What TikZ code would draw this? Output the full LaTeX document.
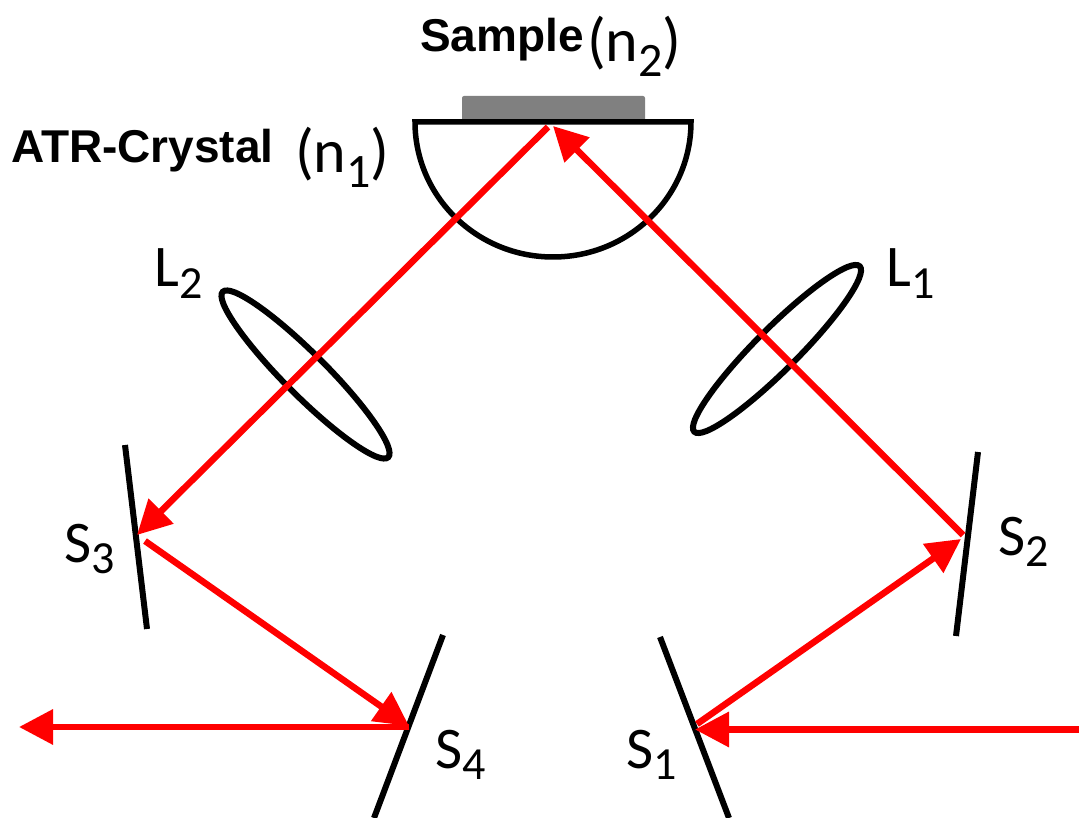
\documentclass[tikz,border=0pt]{standalone}
\usepackage{fontspec}
\setmainfont{Carlito}
\newfontfamily\boldfam[BoldFont={Liberation Sans Bold}]{Liberation Sans}
\usetikzlibrary{arrows.meta}
\newcommand\sbs[1]{\raisebox{-0.2em}{\fontsize{46}{46}\selectfont #1}}
\newcommand\sbb[1]{\raisebox{-0.24em}{\fontsize{48}{48}\selectfont #1}}
\tikzset{
 ray/.style={draw=red,line width=6.5pt,-{Triangle[length=34pt,width=34pt]}},
 mirror/.style={draw=black,line width=6pt},
 lens/.style={draw=black,line width=6pt,fill=none},
 lab/.style={font=\fontsize{59}{59}\selectfont,inner sep=0pt,anchor=base west},
 idx/.style={font=\fontsize{62}{62}\selectfont,inner sep=0pt,anchor=base west},
 bold/.style={font=\fontsize{46}{46}\selectfont\boldfam\bfseries,inner sep=0pt,anchor=base west},
}
\begin{document}
\begin{tikzpicture}[x=1pt,y=-1pt]
\useasboundingbox (0,0) rectangle (1079,818);
\clip (0,0) rectangle (1079,818);
% sample
\node[fill=black!50,rounded corners=2pt,minimum width=183pt,minimum height=26pt,inner sep=0pt] (sample) at (553.5,109) {};
% crystal
\draw[line width=5.5pt] (415,122) -- (691,122) arc[start angle=0,end angle=180,x radius=138,y radius=135] -- cycle;
% lenses
\draw[lens,rotate around={45:(777,349)}] (777,349) ellipse (117 and 21);
\draw[lens,rotate around={-45:(305.5,374.5)}] (305.5,374.5) ellipse (117 and 21);
% mirrors
\coordinate (s1a) at (660,637); \coordinate (s1b) at (729,818);
\coordinate (s2a) at (978,452); \coordinate (s2b) at (956,636);
\coordinate (s3a) at (125,445); \coordinate (s3b) at (147,629);
\coordinate (s4a) at (443,635); \coordinate (s4b) at (374,818);
\draw[mirror] (s1a)--(s1b);
\draw[mirror] (s2a)--(s2b);
\draw[mirror] (s3a)--(s3b);
\draw[mirror] (s4a)--(s4b);
% rays
\coordinate (in) at (1079,729.5);
\coordinate (p1) at (695,729.5);
\coordinate (p1b) at (697,724);
\coordinate (p2) at (961,539);
\coordinate (p2b) at (963,535);
\coordinate (top) at (553,126);
\coordinate (top2) at (548,127);
\coordinate (p3) at (137,535);
\coordinate (p3b) at (145,541);
\coordinate (p4) at (409,726);
\coordinate (p4b) at (409,727);
\coordinate (out) at (19,727);
\draw[ray] (in) -- (p1);
\draw[ray] (p1b) -- (p2);
\draw[ray] (p2b) -- (top);
\draw[ray] (top2) -- (p3);
\draw[ray] (p3b) -- (p4);
\draw[ray] (p4b) -- (out);
% labels
\node[bold] (sl) at (420,52) {Sample};
\node[idx] (sn) at (587,62) {(n\sbb{2})};
\node[bold] (al) at (11,163) {ATR-Crystal};
\node[idx] (an) at (295,173) {(n\sbb{1})};
\node[lab] (l2) at (154,287) {L\sbs{2}};
\node[lab] (l1) at (886,287) {L\sbs{1}};
\node[lab] (s3) at (64,562) {S\sbs{3}};
\node[lab] (s2) at (998,555) {S\sbs{2}};
\node[lab] (s4) at (435,768) {S\sbs{4}};
\node[lab] (s1) at (626,768) {S\sbs{1}};
\end{tikzpicture}
\end{document}
